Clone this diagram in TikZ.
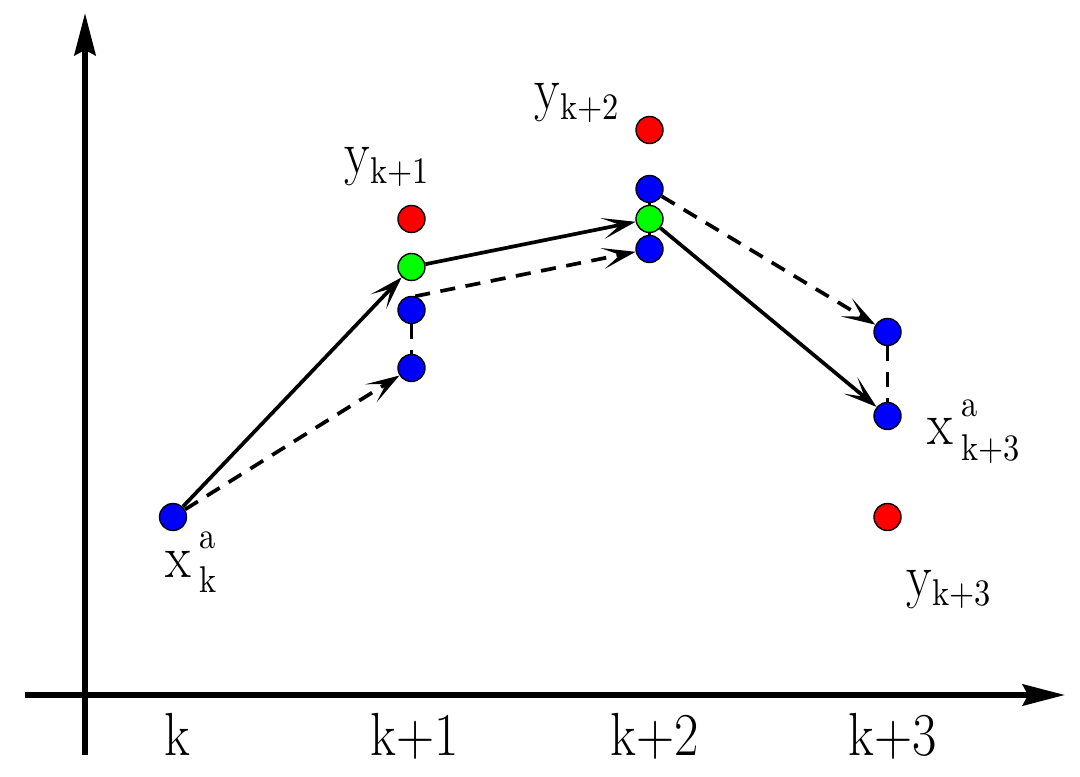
\documentclass[tikz,border=0pt]{standalone}
\usepackage{fontspec}
\usetikzlibrary{arrows.meta}
\newcommand\sqz[1]{\scalebox{0.87}[1]{#1}}
\newcommand\smallsz{\fontsize{10.6}{12}\selectfont}
\newcommand\lsub[1]{\raisebox{-2.6pt}{\smallsz #1}}
\newcommand\lsupsub[2]{\hspace{2.5pt}\rlap{\raisebox{8pt}{\smallsz #1}}\raisebox{-4.5pt}{\smallsz #2}}
\begin{document}
\begin{tikzpicture}[x=0.01cm,y=-0.01cm,
  dot/.style={circle, draw=black, line width=0.4pt, minimum size=0.27cm, inner sep=0pt},
  conn/.style={line width=1.05pt, -{Stealth[open,fill=white,line width=1.5pt,length=9.5pt,width=6pt,inset=5pt]}},
  link/.style={line width=1.05pt},
  dsh/.style={dash pattern=on 4.3pt off 3pt},
  axis/.style={line width=1.65pt, -{Stealth[length=12pt,width=6pt,inset=1.5pt]}},
  lbl/.style={inner sep=0pt, font=\fontsize{17.3}{20}\selectfont}
]
\useasboundingbox (0,0) rectangle (1080,777);

% axes
\coordinate (ybot) at (85,755);
\coordinate (ytop) at (85,13);
\coordinate (xl) at (25,695);
\coordinate (xr) at (1065,695);
\draw[axis] (ybot) -- (ytop);
\draw[axis] (xl) -- (xr);

% points
\node[dot,fill=blue]  (xk) at (173,517) {};
\node[dot,fill=red]   (r1) at (411.5,219) {};
\node[dot,fill=green] (g1) at (411.5,267) {};
\node[dot,fill=blue]  (b1) at (411.5,310) {};
\node[dot,fill=blue]  (b2) at (411.5,368) {};
\node[dot,fill=red]   (r2) at (649.5,130) {};
\node[dot,fill=blue]  (b4) at (649.5,189) {};
\node[dot,fill=green] (g2) at (649.5,219) {};
\node[dot,fill=blue]  (b3) at (649.5,249) {};
\node[dot,fill=blue]  (b5) at (887.5,332) {};
\node[dot,fill=blue]  (b6) at (887.5,416) {};
\node[dot,fill=red]   (r3) at (887.5,517) {};

% connectors
\draw[conn] (xk) -- (g1);
\draw[conn,dsh] (xk) -- (b2);
\draw[link,dsh] (b1) -- (b2);
\draw[conn] (g1) -- (g2);
\draw[conn,dsh] (b1.75) -- (b3);
\draw[link,dsh] (b4) -- (g2);
\draw[link,dsh] (g2) -- (b3);
\draw[conn,dsh] (b4) -- (b5);
\draw[conn] (g2) -- (b6);
\draw[link,dsh] (b5) -- (b6);

% point labels
\node[lbl,anchor=base west] (lxk) at (165,577) {\sqz{x\lsupsub{a}{k}}};
\node[lbl,anchor=base west] (ly1) at (344,174) {\sqz{y\lsub{k+1}}};
\node[lbl,anchor=base west] (ly2) at (534,110) {\sqz{y\lsub{k+2}}};
\node[lbl,anchor=base west] (lx3) at (927,445) {\sqz{x\lsupsub{a}{k+3}}};
\node[lbl,anchor=base west] (ly3) at (906,596) {\sqz{y\lsub{k+3}}};

% axis labels
\node[lbl,anchor=base] (t0) at (177,755) {\sqz{k}};
\node[lbl,anchor=base] (t1) at (415,755) {\sqz{k+1}};
\node[lbl,anchor=base] (t2) at (655,755) {\sqz{k+2}};
\node[lbl,anchor=base] (t3) at (893,755) {\sqz{k+3}};
\end{tikzpicture}
\end{document}
